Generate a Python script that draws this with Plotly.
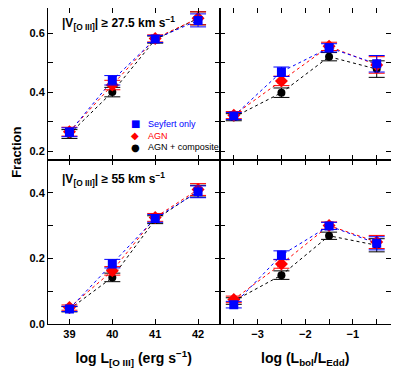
import plotly.graph_objects as go

# log L[OIII] bins and log(Lbol/LEdd) bins
lo3 = [39, 40, 41, 42]
ledd = [-3.5, -2.5, -1.5, -0.5]

# top row: |V| >= 27.5 km/s
sey_top_l = [0.264, 0.440, 0.580, 0.643]
agn_top_l = [0.266, 0.424, 0.582, 0.650]
cmp_top_l = [0.258, 0.400, 0.578, 0.650]
err_top_l = [0.015, 0.016, 0.012, 0.022]

sey_top_r = [0.319, 0.469, 0.550, 0.496]
agn_top_r = [0.322, 0.438, 0.555, 0.492]
cmp_top_r = [0.315, 0.398, 0.520, 0.478]
err_top_r = [0.012, 0.016, 0.014, 0.028]

# bottom row: |V| >= 55 km/s
sey_bot_l = [0.046, 0.184, 0.322, 0.403]
agn_bot_l = [0.050, 0.162, 0.325, 0.410]
cmp_bot_l = [0.045, 0.142, 0.318, 0.405]
err_bot_l = [0.008, 0.013, 0.012, 0.018]

sey_bot_r = [0.059, 0.210, 0.299, 0.246]
agn_bot_r = [0.075, 0.183, 0.300, 0.250]
cmp_bot_r = [0.070, 0.149, 0.269, 0.240]
err_bot_r = [0.010, 0.013, 0.011, 0.020]

legend_names = ["Seyfert only", "AGN", "AGN + composite"]
legend_glyphs = ["■", "◆", "●"]

series = [
    ("AGN + composite", "black", "circle", 8),
    ("AGN", "#ff0000", "diamond", 10),
    ("Seyfert only", "#0000ff", "square", 9),
]

panels = [
    (lo3, [cmp_top_l, agn_top_l, sey_top_l], err_top_l, "x", "y"),
    (ledd, [cmp_top_r, agn_top_r, sey_top_r], err_top_r, "x2", "y2"),
    (lo3, [cmp_bot_l, agn_bot_l, sey_bot_l], err_bot_l, "x3", "y3"),
    (ledd, [cmp_bot_r, agn_bot_r, sey_bot_r], err_bot_r, "x4", "y4"),
]

fig = go.Figure()
for xs, ys_list, err, xa, ya in panels:
    for (name, col, sym, sz), ys in zip(series, ys_list):
        fig.add_trace(go.Scatter(
            x=xs, y=ys, mode="lines", xaxis=xa, yaxis=ya, showlegend=False,
            line=dict(color=col, width=1, dash="3px,3px")))
    for (name, col, sym, sz), ys in zip(series, ys_list):
        fig.add_trace(go.Scatter(
            x=xs, y=ys, mode="markers", xaxis=xa, yaxis=ya, showlegend=False,
            marker=dict(color=col, symbol=sym, size=sz),
            error_y=dict(type="data", array=err, color=col, thickness=1, width=8)))

font = dict(family="Arial", size=11, color="black", weight="bold")
ax_common = dict(showline=True, linecolor="black", linewidth=1, mirror="allticks",
                 ticks="inside", ticklen=5, tickcolor="black", showgrid=False,
                 zeroline=False, tickfont=font, automargin=False)
minor = dict(ticks="inside", ticklen=5, tickcolor="black")

xl = dict(range=[38.5, 42.5], tick0=39, dtick=1, **ax_common)
xr = dict(range=[-3.8, -0.2], tick0=-3, dtick=1, tickformat="d",
          minor=dict(dtick=0.5, tick0=0, **minor), **ax_common)
yt = dict(range=[0.17, 0.685], tick0=0, dtick=0.2, tickformat=".1f",
          minor=dict(dtick=0.1, tick0=0, **minor), **ax_common)
yb = dict(range=[0.0, 0.5], tick0=0, dtick=0.2, tickformat=".1f",
          minor=dict(dtick=0.1, tick0=0, **minor), **ax_common)

title_font = dict(family="Arial", size=14, color="black", weight="bold")
top_dom = [0.519, 1.0]
bot_dom = [0.0, 0.519]

annotations = [
    dict(text="|V<sub>[O III]</sub>| ≥ 27.5 km s<sup>−1</sup>", xref="paper", yref="paper",
         x=0.035, y=0.953, xanchor="left", yanchor="middle", showarrow=False,
         font=dict(family="Arial", size=12, color="black", weight="bold")),
    dict(text="|V<sub>[O III]</sub>| ≥ 55 km s<sup>−1</sup>", xref="paper", yref="paper",
         x=0.035, y=0.459, xanchor="left", yanchor="middle", showarrow=False,
         font=dict(family="Arial", size=12, color="black", weight="bold")),
    dict(text="Fraction", xref="paper", yref="paper", x=-0.094, y=0.544,
         xanchor="center", yanchor="middle", textangle=-90, showarrow=False,
         font=dict(family="Arial", size=13, color="black", weight="bold")),
]

# legend drawn as text so that rows sit close together
leg_y = [0.633, 0.596, 0.560]
for (name, col, sym, sz), nm, gl, yy in zip(series[::-1], legend_names, legend_glyphs, leg_y):
    annotations.append(dict(text=gl, xref="paper", yref="paper", x=0.254, y=yy,
                            xanchor="center", yanchor="middle", showarrow=False,
                            font=dict(family="DejaVu Sans", size=10, color=col)))
    annotations.append(dict(text=nm, xref="paper", yref="paper", x=0.285, y=yy,
                            xanchor="left", yanchor="middle", showarrow=False,
                            font=dict(family="Arial", size=9, color=col)))

# the page body adds an 8px offset, so the figure is 8px smaller than the window
fig.update_layout(
    width=391, height=360,
    margin=dict(l=40, r=8, t=0, b=44),
    paper_bgcolor="white", plot_bgcolor="white",
    showlegend=False,
    xaxis=dict(domain=[0, 0.5], anchor="y", showticklabels=False, **xl),
    xaxis2=dict(domain=[0.5, 1], anchor="y2", showticklabels=False, **xr),
    xaxis3=dict(domain=[0, 0.5], anchor="y3", **xl,
                title=dict(text="log L<sub>[O III]</sub> (erg s<sup>−1</sup>)",
                           font=title_font, standoff=14)),
    xaxis4=dict(domain=[0.5, 1], anchor="y4", **xr,
                title=dict(text="log (L<sub>bol</sub>/L<sub>Edd</sub>)",
                           font=title_font, standoff=14)),
    yaxis=dict(domain=top_dom, anchor="x", **yt),
    yaxis2=dict(domain=top_dom, anchor="x2", showticklabels=False, **yt),
    yaxis3=dict(domain=bot_dom, anchor="x3", **yb),
    yaxis4=dict(domain=bot_dom, anchor="x4", showticklabels=False, **yb),
    annotations=annotations,
)

fig.write_html("out.html")
